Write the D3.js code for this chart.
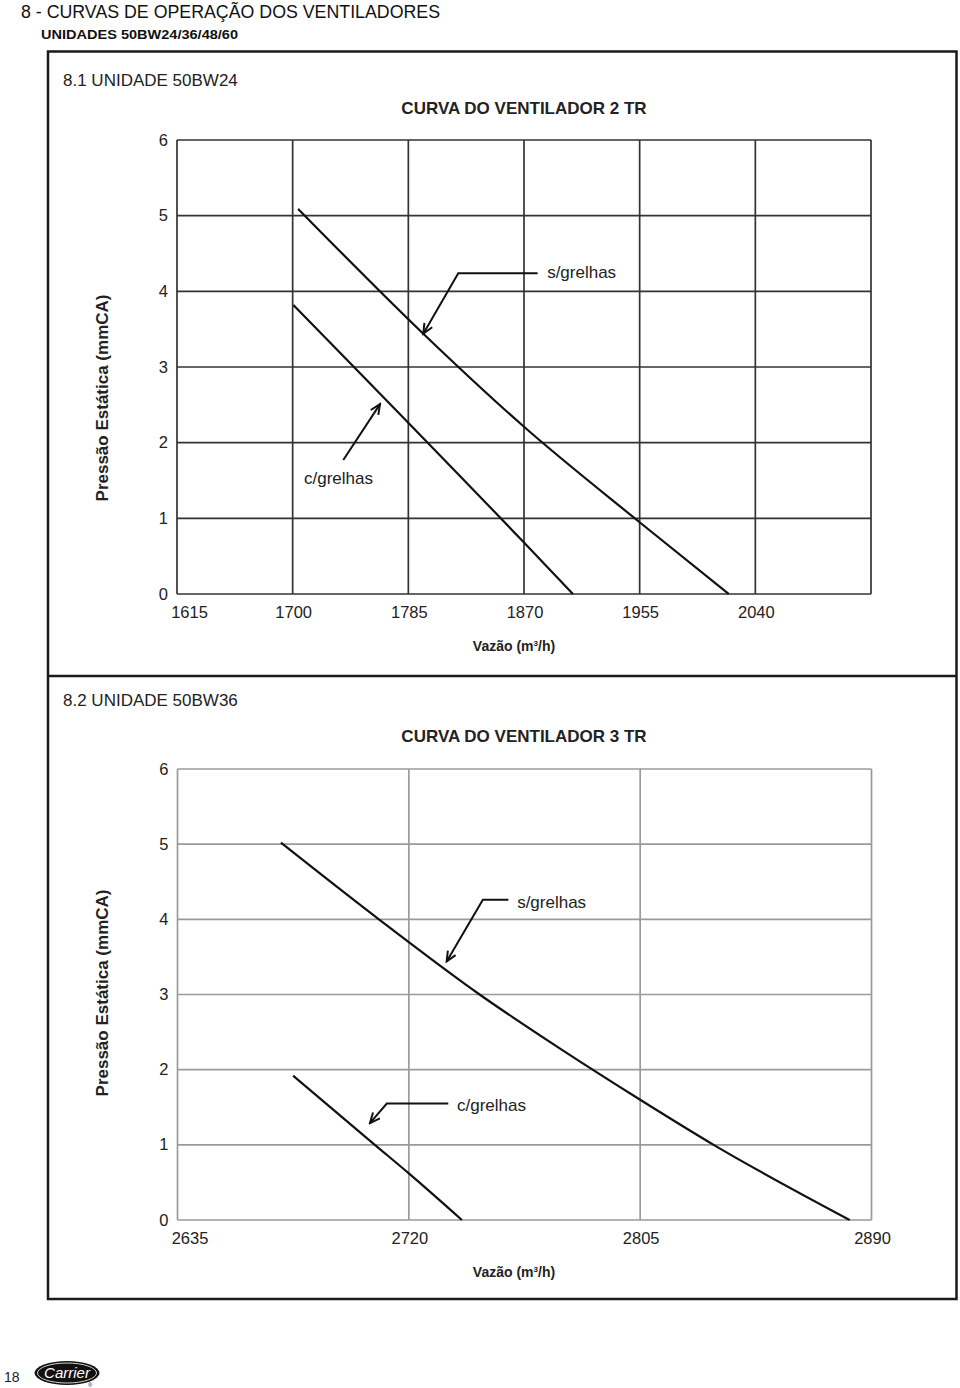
<!DOCTYPE html>
<html>
<head>
<meta charset="utf-8">
<script src="https://cdn.jsdelivr.net/npm/d3@7"></script>
<style>
  body { margin: 0; background: #fff; }
  svg text { font-family: "Liberation Sans", Arial, sans-serif; }
</style>
</head>
<body>
<svg id="page" width="960" height="1388"></svg>
<script>
// --- data ---
pressureTicks = [0, 1, 2, 3, 4, 5, 6];

bw24Grid = [1615, 1700, 1785, 1870, 1955, 2040, 2125];
bw24Labels = ["1615", "1700", "1785", "1870", "1955", "2040"];
bw24Sem = [[1704, 5.09], [1796, 3.44], [1870, 2.21], [1954.5, 0.955], [2020.5, 0]];
bw24Com = [[1700.5, 3.82], [1870, 0.68], [1906, 0]];

bw36Grid = [2635, 2720, 2805, 2890];
bw36Labels = ["2635", "2720", "2805", "2890"];
bw36Sem = [[2673, 5.02], [2709, 4.0], [2746, 3.0], [2776, 2.27], [2805, 1.6], [2832, 1.0], [2882, 0]];
bw36Com = [[2677.5, 1.92], [2707.5, 1.0], [2720, 0.62], [2739.5, 0]];

// annotations: label, text anchor point, leader path (data units), tip last
bw24Notes = [
  { text: "s/grelhas", at: [1887, 4.25], path: [[1880, 4.24], [1821.7, 4.24], [1796, 3.44]] },
  { text: "c/grelhas", at: [1708.3, 1.53], path: [[1737.2, 1.77], [1764.2, 2.51]] }
];
bw36Notes = [
  { text: "s/grelhas", at: [2759.8, 4.23], path: [[2756.6, 4.26], [2747.2, 4.26], [2733.9, 3.44]] },
  { text: "c/grelhas", at: [2737.7, 1.53], path: [[2734.5, 1.55], [2711.9, 1.55], [2705.7, 1.29]] }
];

svg = d3.select("#page");

svg.append("defs").append("marker")
    .attr("id", "arrow")
    .attr("viewBox", "-12 -7 14 14")
    .attr("refX", 0).attr("refY", 0)
    .attr("markerWidth", 14).attr("markerHeight", 14)
    .attr("markerUnits", "userSpaceOnUse")
    .attr("orient", "auto")
  .append("path")
    .attr("d", "M-10,-4.5 L0,0 L-10,4.5")
    .attr("fill", "none").attr("stroke", "#111").attr("stroke-width", 2);

// page header
svg.append("text").attr("x", 21).attr("y", 17.5)
    .attr("font-size", 18).attr("textLength", 419).attr("lengthAdjust", "spacingAndGlyphs")
    .attr("fill", "#111")
    .text("8 - CURVAS DE OPERAÇÃO DOS VENTILADORES");
svg.append("text").attr("x", 41).attr("y", 38.5)
    .attr("font-size", 12.5).attr("font-weight", "bold").attr("fill", "#111")
    .attr("textLength", 197).attr("lengthAdjust", "spacingAndGlyphs")
    .text("UNIDADES 50BW24/36/48/60");

// outer frame and divider
svg.append("rect").attr("x", 48).attr("y", 51.5).attr("width", 908.5).attr("height", 1247.5)
    .attr("fill", "none").attr("stroke", "#1a1a1a").attr("stroke-width", 2.5);
svg.append("line").attr("x1", 48).attr("x2", 956.5).attr("y1", 676).attr("y2", 676)
    .attr("stroke", "#1a1a1a").attr("stroke-width", 2.5);

function drawChart(opt) {
  let g = svg.append("g");
  let x = d3.scaleLinear().domain(d3.extent(opt.grid)).range([opt.left, opt.right]);
  let y = d3.scaleLinear().domain([0, 6]).range([opt.bottom, opt.top]);

  g.append("text").attr("x", 63).attr("y", opt.unitY)
      .attr("font-size", 17).attr("fill", "#222").text(opt.unit);
  g.append("text").attr("x", 524).attr("y", opt.titleY).attr("text-anchor", "middle")
      .attr("font-size", 17).attr("font-weight", "bold").attr("fill", "#222").text(opt.title);

  // grid
  g.selectAll(".vg").data(opt.grid).join("line")
      .attr("x1", d => x(d)).attr("x2", d => x(d))
      .attr("y1", y(0)).attr("y2", y(6))
      .attr("stroke", opt.gridColor).attr("stroke-width", 1.7);
  g.selectAll(".hg").data(pressureTicks).join("line")
      .attr("x1", x.range()[0]).attr("x2", x.range()[1])
      .attr("y1", d => y(d)).attr("y2", d => y(d))
      .attr("stroke", opt.gridColor).attr("stroke-width", 1.7);

  // y tick labels
  g.selectAll(".yl").data(pressureTicks).join("text")
      .attr("x", opt.left - 9).attr("y", d => y(d) + 5.5)
      .attr("text-anchor", "end").attr("font-size", 16.5).attr("fill", "#222")
      .text(d => d);
  // x tick labels
  g.selectAll(".xl").data(opt.labels).join("text")
      .attr("x", (d, i) => i === 0 ? x(+d) + 12.5 : x(+d) + 1)
      .attr("y", y(0) + 23.5).attr("text-anchor", "middle")
      .attr("font-size", 16.5).attr("fill", "#222").text(d => d);

  // axis titles
  g.append("text")
      .attr("transform", `translate(108,${opt.yTitleY}) rotate(-90)`)
      .attr("text-anchor", "middle").attr("font-size", 17).attr("font-weight", "bold")
      .attr("fill", "#222").text("Pressão Estática (mmCA)");
  let xt = g.append("text").attr("x", 514).attr("y", y(0) + opt.xTitleDy)
      .attr("text-anchor", "middle").attr("font-size", 14).attr("font-weight", "bold")
      .attr("fill", "#222");
  xt.append("tspan").text("Vazão (m");
  xt.append("tspan").attr("font-size", 8).attr("dy", -5).text("3");
  xt.append("tspan").attr("dy", 5).text("/h)");

  // curves
  let line = d3.line().x(d => x(d[0])).y(d => y(d[1])).curve(d3.curveMonotoneX);
  [opt.sem, opt.com].forEach(s => {
    g.append("path").attr("d", line(s))
        .attr("fill", "none").attr("stroke", "#111").attr("stroke-width", 2.2);
  });

  // annotations
  let lead = d3.line().x(d => x(d[0])).y(d => y(d[1]));
  opt.notes.forEach(n => {
    g.append("path").attr("d", lead(n.path))
        .attr("fill", "none").attr("stroke", "#111").attr("stroke-width", 2)
        .attr("marker-end", "url(#arrow)");
    g.append("text").attr("x", x(n.at[0])).attr("y", y(n.at[1]) + 6)
        .attr("font-size", 17).attr("fill", "#222").text(n.text);
  });
}

drawChart({
  unit: "8.1 UNIDADE 50BW24", unitY: 86,
  title: "CURVA DO VENTILADOR 2 TR", titleY: 114,
  grid: bw24Grid, labels: bw24Labels, sem: bw24Sem, com: bw24Com, notes: bw24Notes,
  left: 177, right: 871, top: 140, bottom: 594,
  gridColor: "#333", xTitleDy: 57, yTitleY: 398
});
drawChart({
  unit: "8.2 UNIDADE 50BW36", unitY: 706,
  title: "CURVA DO VENTILADOR 3 TR", titleY: 742,
  grid: bw36Grid, labels: bw36Labels, sem: bw36Sem, com: bw36Com, notes: bw36Notes,
  left: 177.5, right: 871.5, top: 769, bottom: 1220,
  gridColor: "#9a9a9a", xTitleDy: 57, yTitleY: 993
});

// footer
svg.append("text").attr("x", 4).attr("y", 1382)
    .attr("font-size", 14).attr("fill", "#222").text("18");
let logo = svg.append("g").attr("transform", "translate(67,1373)");
logo.append("ellipse").attr("rx", 32.5).attr("ry", 12).attr("fill", "#111");
logo.append("ellipse").attr("rx", 29.5).attr("ry", 10).attr("fill", "none")
    .attr("stroke", "#fff").attr("stroke-width", 0.8);
logo.append("text").attr("y", 5).attr("text-anchor", "middle")
    .attr("font-family", "'Liberation Serif', serif").attr("font-style", "italic")
    .attr("font-size", 15).attr("fill", "#fff").text("Carrier");
svg.append("text").attr("x", 88).attr("y", 1387)
    .attr("font-size", 6).attr("fill", "#222").text("®");
</script>
</body>
</html>
